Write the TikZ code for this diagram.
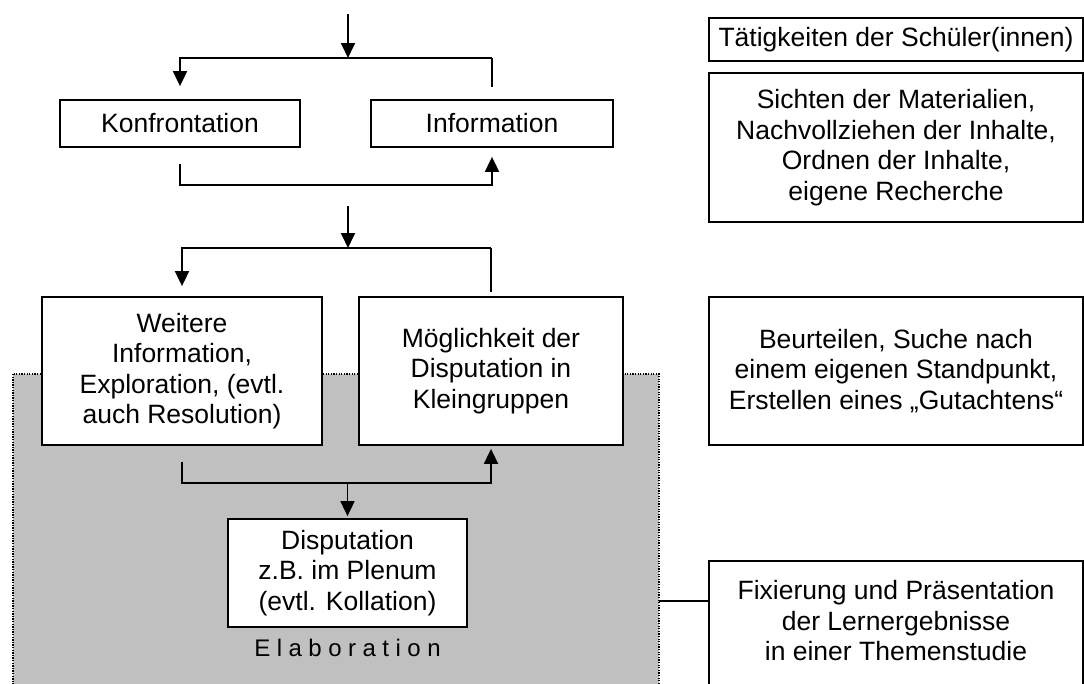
\documentclass[tikz,border=0pt]{standalone}
\usepackage{fontspec}
\setmainfont{Liberation Sans}
\usetikzlibrary{arrows.meta,calc}

\begin{document}
\begin{tikzpicture}[x=1pt,y=-1pt,
  every node/.style={font=\fontsize{26.5}{30.5}\selectfont},
  box/.style={draw=black, line width=1.8pt, fill=white, align=center,
              inner sep=0pt, anchor=center},
  conn/.style={draw=black, line width=1.8pt},
  arr/.style={conn, -{Triangle[length=15pt,width=14pt]}},
  phase/.style={fill={rgb,255:red,192;green,192;blue,192}, draw=black,
                line width=1.2pt, dash pattern=on 1.3pt off 1.3pt},
]
\useasboundingbox (0,0) rectangle (1084,683);
\clip (0,0) rectangle (1084,683);
\fill[white] (0,0) rectangle (1084,683);

% shaded elaboration phase
\path[phase] (13,374) rectangle (659,700);
\coordinate (elabE) at (659,601);

% left column: process steps
\node[box, minimum width=240pt, minimum height=47pt] (konf) at (180,123.5) {Konfrontation};
\node[box, minimum width=242pt, minimum height=47pt] (info) at (492,123.5) {Information};
\node[box, minimum width=280pt, minimum height=148pt] (weit) at (182,371)
  {Weitere\\Information,\\Exploration, (evtl.\\auch Resolution)};
\node[box, minimum width=264pt, minimum height=148pt] (moeg) at (491,371)
  {Möglichkeit der\\Disputation in\\Kleingruppen};
\node[box, minimum width=239pt, minimum height=108pt] (disp) at (347.5,573)
  {Disputation\\z.B. im Plenum\\(evtl. Kollation)};
\node (elab) at (347.5,648) {\fontsize{24}{28}\selectfont
  E\kern6.5pt l\kern6.5pt a\kern6.5pt b\kern6.5pt o\kern6.5pt r\kern6.5pt a\kern6.5pt t\kern6.5pt i\kern6.5pt o\kern6.5pt n};

% right column: pupils' activities
\node[box, minimum width=374pt, minimum height=43pt] (taet) at (896,39.5)
  {Tätigkeiten der Schüler(innen)};
\node[box, minimum width=374pt, minimum height=149pt] (sicht) at (896,147.5)
  {Sichten der Materialien,\\Nachvollziehen der Inhalte,\\Ordnen der Inhalte,\\eigene Recherche};
\node[box, minimum width=374pt, minimum height=148pt] (beurt) at (896,371)
  {Beurteilen, Suche nach\\einem eigenen Standpunkt,\\Erstellen eines „Gutachtens“};
\node[box, minimum width=374pt, minimum height=150pt] (fix) at (896,636) {};
\node[align=center] (fixtext) at (896,621)
  {Fixierung und Präsentation\\der Lernergebnisse\\in einer Themenstudie};

% first fork
\coordinate (src1) at (348,14);
\coordinate (fk1) at (348,58);
\draw[arr] (src1) -- (fk1);
\draw[arr, shorten >=13pt] (info.north |- fk1) -- (konf.north |- fk1) -- (konf.north);
\draw[conn, shorten >=12pt] (info.north |- fk1) -- (info.north);

% loop from Konfrontation to Information
\coordinate (lp1) at (0,185);
\draw[arr, shorten >=9pt] ([yshift=-16pt]konf.south) -- (konf.south |- lp1)
  -- (info.south |- lp1) -- (info.south);

% second fork
\coordinate (src2) at (348,206);
\coordinate (fk2) at (348,248);
\draw[arr] (src2) -- (fk2);
\draw[arr, shorten >=10pt] (moeg.north |- fk2) -- (weit.north |- fk2) -- (weit.north);
\draw[conn, shorten >=4pt] (moeg.north |- fk2) -- (moeg.north);

% loop into the disputation
\coordinate (lp3) at (0,483);
\draw[arr, shorten >=3pt] ([yshift=-16pt]weit.south) -- (weit.south |- lp3)
  -- (moeg.south |- lp3) -- (moeg.south);
\draw[arr, shorten >=2pt] (disp.north |- lp3) -- (disp.north);

% link to the result box
\draw[conn] (elabE) -- (elabE -| fix.west);
\end{tikzpicture}
\end{document}
